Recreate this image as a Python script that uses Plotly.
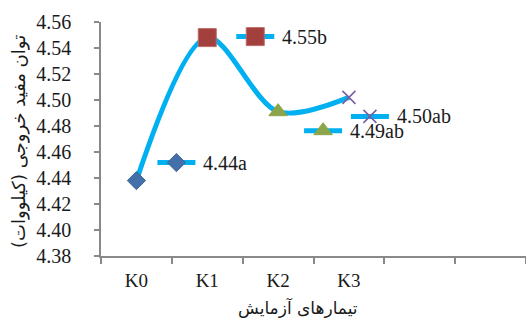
import plotly.graph_objects as go

# ---- data ----
categories = ["K0", "K1", "K2", "K3"]
values = [4.438, 4.548, 4.491, 4.502]
labels = ["4.44a", "4.55b", "4.49ab", "4.50ab"]
y_ticks = [4.38, 4.40, 4.42, 4.44, 4.46, 4.48, 4.50, 4.52, 4.54, 4.56]

# ---- styling ----
W, H = 526, 320
ML, MR, MT, MB = 101, 0, 22, 64
XR = [-0.5, 5.5]
YR = [4.38, 4.56]
px_x = (W - ML - MR) / (XR[1] - XR[0])
px_y = (H - MT - MB) / (YR[1] - YR[0])

SERIF = "Liberation Serif"
line_color = "#00B0F0"
marker_styles = [
    dict(symbol="diamond", size=14, color="#4470A9", line=dict(color="#3D6597", width=1)),
    dict(symbol="square", size=18, color="#A2403D", line=dict(color="#C06A67", width=1)),
    dict(symbol="triangle-up", size=16, color="#8CA54A", line=dict(color="#8CA54A", width=1)),
    dict(symbol="x-thin", size=13, color="#7B5FA0", line=dict(color="#7B5FA0", width=1.6)),
]
# label key offsets (pixels, right/down) relative to each data point
label_dx = [40, 48, 45, 21]
label_dy = [-18, -1, 19, 19]
key_half = 19

xs = list(range(len(categories)))

fig = go.Figure()
fig.add_trace(go.Scatter(
    x=xs, y=values, mode="lines",
    line=dict(color=line_color, width=5, shape="spline", smoothing=0.9),
    hoverinfo="skip", showlegend=False,
))
for i, (x, v) in enumerate(zip(xs, values)):
    fig.add_trace(go.Scatter(x=[x], y=[v], mode="markers", marker=marker_styles[i],
                             showlegend=False, hoverinfo="skip"))

annotations = []
for i, (x, v) in enumerate(zip(xs, values)):
    cx = x + label_dx[i] / px_x
    cy = v - label_dy[i] / px_y
    fig.add_trace(go.Scatter(
        x=[cx - key_half / px_x, cx + key_half / px_x], y=[cy, cy], mode="lines",
        line=dict(color=line_color, width=5), showlegend=False, hoverinfo="skip"))
    fig.add_trace(go.Scatter(x=[cx], y=[cy], mode="markers", marker=marker_styles[i],
                             showlegend=False, hoverinfo="skip"))
    annotations.append(dict(
        x=cx + (key_half + 6) / px_x, y=cy, xref="x", yref="y",
        text=labels[i], showarrow=False, xanchor="left", yanchor="middle",
        font=dict(family=SERIF, size=20, color="#1a1a1a")))

annotations.append(dict(
    x=(298 - ML) / (W - ML - MR), y=(H - MB - 307) / (H - MT - MB), xref="paper", yref="paper",
    text="تیمارهای آزمایش", showarrow=False, xanchor="center", yanchor="middle",
    font=dict(family="DejaVu Sans", size=17, color="#1a1a1a")))
annotations.append(dict(
    x=(19 - ML) / (W - ML - MR), y=(H - MB - 142) / (H - MT - MB), xref="paper", yref="paper",
    text="توان مفید خروجی (کیلووات)", showarrow=False, xanchor="center", yanchor="middle",
    textangle=-90,
    font=dict(family="DejaVu Sans", size=18, color="#1a1a1a")))

axis_gray = "#898989"
fig.update_layout(
    width=W, height=H,
    margin=dict(l=ML, r=MR, t=MT, b=MB),
    paper_bgcolor="white", plot_bgcolor="white",
    annotations=annotations,
    xaxis=dict(
        range=XR, tickmode="array", tickvals=xs, ticktext=categories,
        ticks="", showgrid=False, zeroline=False, ticklabelstandoff=6,
        showline=True, linecolor=axis_gray, linewidth=1.5,
        tickfont=dict(family=SERIF, size=19, color="#1a1a1a"),
        minor=dict(tick0=-0.5, dtick=1, ticks="outside", ticklen=6, tickcolor=axis_gray,
                   tickwidth=1.5, showgrid=False),
    ),
    yaxis=dict(
        range=YR, tickmode="array", tickvals=y_ticks, tickformat=".2f",
        ticks="outside", ticklen=5, tickcolor=axis_gray, tickwidth=1.5,
        showgrid=False, zeroline=False, ticklabelstandoff=19,
        showline=True, linecolor=axis_gray, linewidth=1.5,
        tickfont=dict(family=SERIF, size=20, color="#1a1a1a"),
    ),
)

fig.write_html("out.html")
